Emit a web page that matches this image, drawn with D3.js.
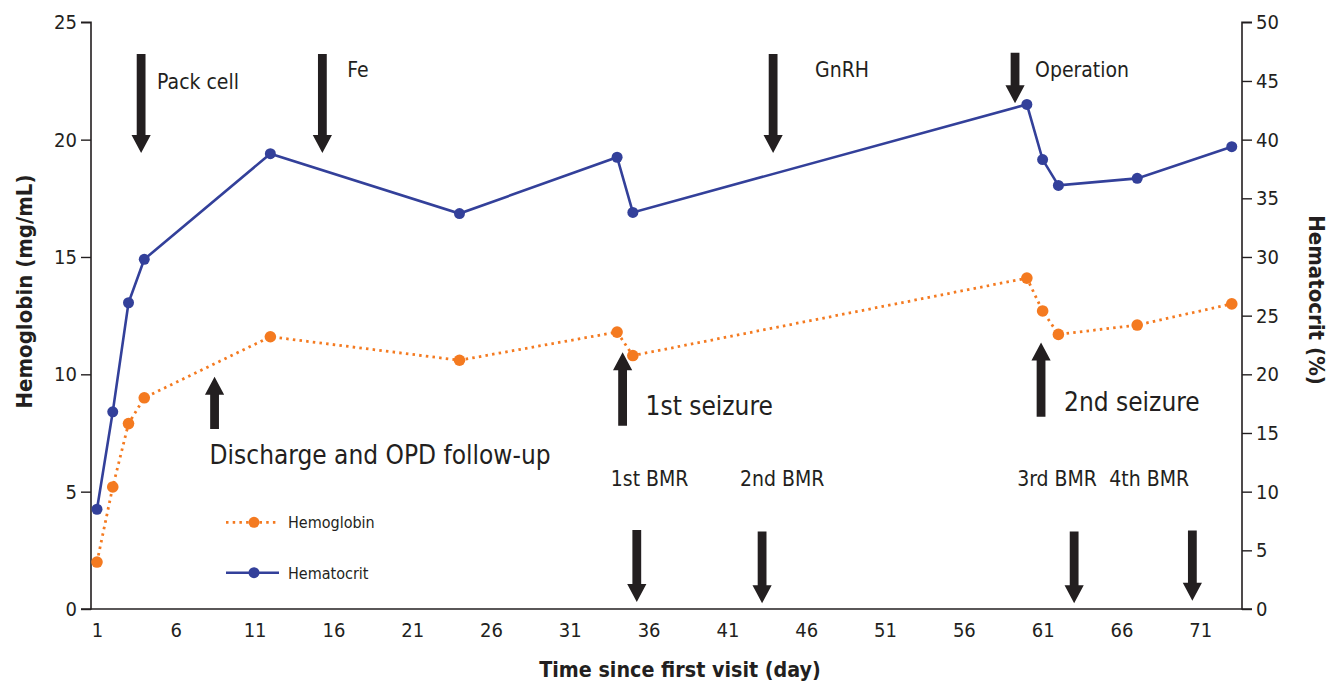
<!DOCTYPE html>
<html><head><meta charset="utf-8">
<script src="https://cdn.jsdelivr.net/npm/d3@7"></script>
<style>
html,body{margin:0;padding:0;background:#fff;}
svg text{font-family:"Liberation Sans Narrow","DejaVu Sans Condensed","Roboto Condensed",Roboto,sans-serif;fill:#231f20;}
</style></head>
<body><svg id="c" width="1341" height="684"></svg>
<script>
// ---- data ----
const days = [1, 2, 3, 4, 12, 24, 34, 35, 60, 61, 62, 67, 73];
const hemoglobin = [2.0, 5.2, 7.9, 9.0, 11.6, 10.6, 11.8, 10.8, 14.1, 12.7, 11.7, 12.1, 13.0];
const hematocrit = [8.5, 16.8, 26.1, 29.8, 38.8, 33.7, 38.5, 33.8, 43.0, 38.3, 36.1, 36.7, 39.4];
const xTicks = [1, 6, 11, 16, 21, 26, 31, 36, 41, 46, 51, 56, 61, 66, 71];
const leftTicks = [0, 5, 10, 15, 20, 25];
const rightTicks = [0, 5, 10, 15, 20, 25, 30, 35, 40, 45, 50];
// event arrows: day, from / to (hemoglobin units)
const eventDays = [3.8, 15.3, 43.9, 59.25, 8.46, 34.35, 60.9, 35.25, 43.2, 63.0, 70.5];
const eventFrom = [23.65, 23.65, 23.65, 23.7, 7.67, 7.81, 8.19, 3.37, 3.3, 3.3, 3.35];
const eventTo = [19.43, 19.43, 19.43, 21.55, 9.9, 10.94, 11.36, 0.3, 0.25, 0.25, 0.35];
const labelTexts = ["Pack cell", "Fe", "GnRH", "Operation", "Discharge and OPD follow-up", "1st seizure", "2nd seizure", "1st BMR", "2nd BMR", "3rd BMR", "4th BMR"];

// ---- layout ----
const svg = d3.select("#c");
const L = 91, R = 1242, T = 22.3, B = 609;
const x = d3.scaleLinear().domain([0.62, 73.65]).range([L, R]);
const yL = d3.scaleLinear().domain([0, 25]).range([B, T]);
const yR = d3.scaleLinear().domain([0, 50]).range([B, T]);
const ink = "#231f20", blue = "#33409a", orange = "#f47a20";

// axes
const gL = svg.append("g").attr("transform", `translate(${L},0)`)
  .call(d3.axisLeft(yL).tickValues(leftTicks).tickSize(10).tickPadding(4));
const gR = svg.append("g").attr("transform", `translate(${R},0)`)
  .call(d3.axisRight(yR).tickValues(rightTicks).tickSize(10).tickPadding(4));
const gB = svg.append("g").attr("transform", `translate(0,${B})`)
  .call(d3.axisBottom(x).tickValues(xTicks).tickSize(0).tickPadding(14));
[gL, gR, gB].forEach(g => {
  g.select(".domain").attr("stroke", ink).attr("stroke-width", 1.6);
  g.selectAll(".tick line").attr("stroke", ink).attr("stroke-width", 1.4);
  g.selectAll(".tick text").attr("font-size", 20).attr("fill", ink)
   .style("font-family", '"Liberation Sans Narrow","DejaVu Sans Condensed",Roboto,sans-serif');
});
gL.select(".domain").attr("d", `M-10,${B}H0V${T}H-10`);
gR.select(".domain").attr("d", `M10,${T}H0V${B}H10`);
gB.select(".domain").attr("d", `M${L},0H${R}`);

// axis titles
svg.append("text").attr("transform", `translate(32,291.5) rotate(-90)`)
  .attr("text-anchor", "middle").attr("font-size", 22).attr("font-weight", "bold")
  .text("Hemoglobin (mg/mL)");
svg.append("text").attr("transform", `translate(1309,300) rotate(90)`)
  .attr("text-anchor", "middle").attr("font-size", 22).attr("font-weight", "bold")
  .text("Hematocrit (%)");
svg.append("text").attr("x", 680).attr("y", 677)
  .attr("text-anchor", "middle").attr("font-size", 21.3).attr("font-weight", "bold")
  .text("Time since first visit (day)");

// series
const ht = days.map((d, i) => [d, hematocrit[i]]);
const hb = days.map((d, i) => [d, hemoglobin[i]]);
svg.append("path").datum(ht).attr("fill", "none").attr("stroke", blue).attr("stroke-width", 2.6)
  .attr("d", d3.line().x(d => x(d[0])).y(d => yR(d[1])));
svg.selectAll(".ht").data(ht).join("circle").attr("cx", d => x(d[0])).attr("cy", d => yR(d[1]))
  .attr("r", 5.5).attr("fill", blue);
svg.append("path").datum(hb).attr("fill", "none").attr("stroke", orange).attr("stroke-width", 2.8)
  .attr("stroke-dasharray", "2.5,4.2")
  .attr("d", d3.line().x(d => x(d[0])).y(d => yL(d[1])));
svg.selectAll(".hb").data(hb).join("circle").attr("cx", d => x(d[0])).attr("cy", d => yL(d[1]))
  .attr("r", 5.8).attr("fill", orange);

// arrows
function arrow(xc, y1, y2) {
  const dir = y2 > y1 ? 1 : -1, hl = 18, sw = 4.4, hw = 9.6;
  const yb = y2 - dir * hl;
  return `M${xc - sw},${y1}L${xc + sw},${y1}L${xc + sw},${yb}L${xc + hw},${yb}L${xc},${y2}L${xc - hw},${yb}L${xc - sw},${yb}Z`;
}
svg.selectAll(".arr").data(eventDays).join("path")
  .attr("d", (d, i) => arrow(x(d), yL(eventFrom[i]), yL(eventTo[i]))).attr("fill", ink);

// labels: [dx from arrow, baseline y, size]
const labelPos = [[16, 89, 21], [25, 77, 21], [42, 77, 21], [20, 77, 21],
  [-5, 464, 26], [23, 415, 26], [23, 411, 26],
  [-26, 486, 21], [-22, 486, 21], [-57, 486, 21], [-83, 486, 21]];
svg.selectAll(".lab").data(labelTexts).join("text")
  .attr("x", (d, i) => x(eventDays[i]) + labelPos[i][0])
  .attr("y", (d, i) => labelPos[i][1])
  .attr("font-size", (d, i) => labelPos[i][2])
  .text(d => d);

// legend
const legendNames = ["Hemoglobin", "Hematocrit"];
const lg = svg.append("g");
legendNames.forEach((n, i) => {
  const yy = 522.3 + i * 50.4, c = i === 0 ? orange : blue;
  lg.append("line").attr("x1", 226).attr("x2", 279).attr("y1", yy).attr("y2", yy)
    .attr("stroke", c).attr("stroke-width", i === 0 ? 2.8 : 2.6)
    .attr("stroke-dasharray", i === 0 ? "2.5,4.2" : null);
  lg.append("circle").attr("cx", 254).attr("cy", yy).attr("r", 5.5).attr("fill", c);
  lg.append("text").attr("x", 288).attr("y", yy + 6).attr("font-size", 16).text(n);
});
</script></body></html>
